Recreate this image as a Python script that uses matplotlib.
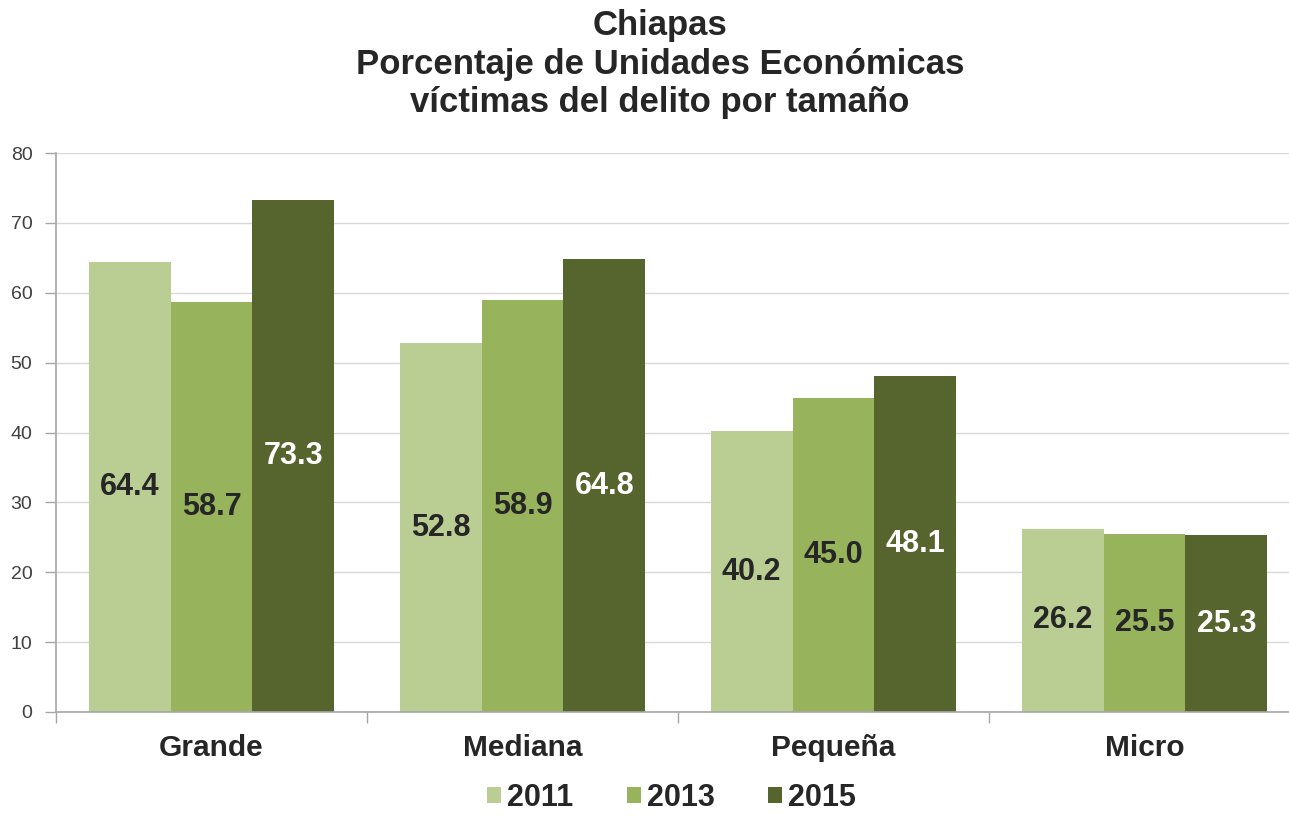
import numpy as np
import matplotlib.pyplot as plt
from matplotlib.patches import Patch

plt.rcParams['font.family'] = ['Liberation Sans', 'DejaVu Sans']

categorias = ['Grande', 'Mediana', 'Pequeña', 'Micro']
anios = ['2011', '2013', '2015']
valores_2011 = [64.4, 52.8, 40.2, 26.2]
valores_2013 = [58.7, 58.9, 45.0, 25.5]
valores_2015 = [73.3, 64.8, 48.1, 25.3]

colores = ['#BACD93', '#97B35B', '#56652D']
color_texto = ['#262626', '#262626', 'white']

fig = plt.figure(figsize=(12.89, 8.16), dpi=100)
# el eje sigue un poco mas alla del borde derecho, como en el original
ax = fig.add_axes([56/1289, 104/816, 1244/1289, 559/816])

x = np.arange(len(categorias))
width = 0.79 / 3
series = [valores_2011, valores_2013, valores_2015]
for j, vals in enumerate(series):
    pos = x + (j - 1) * width
    ax.bar(pos, vals, width, color=colores[j], label=anios[j], zorder=2)
    for i in range(len(vals)):
        ax.text(pos[i], vals[i] / 2, f'{vals[i]:.1f}', ha='center', va='center',
                fontsize=22, fontweight='bold', color=color_texto[j], zorder=3)

ax.set_xlim(-0.5, len(categorias) - 0.5)
ax.set_ylim(0, 80)
ax.set_yticks(range(0, 81, 10))
ax.tick_params(axis='y', labelsize=14, labelcolor='#404040', color='#A6A6A6', length=8, width=1, pad=9)
ax.set_xticks(x)
ax.set_xticklabels(categorias, fontsize=21.5, fontweight='bold', color='#262626')
ax.tick_params(axis='x', length=0, pad=16)
ax.set_xticks(np.arange(-0.5, len(categorias)), minor=True)
ax.tick_params(axis='x', which='minor', length=8, color='#A6A6A6', width=1)
ax.grid(axis='y', color='#D9D9D9', linewidth=1, zorder=0)
for s in ['top', 'right']:
    ax.spines[s].set_visible(False)
for s in ['left', 'bottom']:
    ax.spines[s].set_color('#A6A6A6')
    ax.spines[s].set_linewidth(1.2)

fig.text(0.512, 0.989, 'Chiapas\nPorcentaje de Unidades Económicas\nvíctimas del delito por tamaño',
         ha='center', va='top', fontsize=25, fontweight='bold', color='#262626', linespacing=1.22)

handles = [Patch(facecolor=c) for c in colores]
fig.legend(handles, anios, loc='center', bbox_to_anchor=(0.521, 0.022), ncol=3, frameon=False,
           prop={'size': 22, 'weight': 'bold'}, handlelength=0.45, handleheight=0.45,
           handletextpad=0.2, columnspacing=1.75, labelcolor='#262626', borderpad=0.1)

fig.savefig('out.png', dpi=100)
